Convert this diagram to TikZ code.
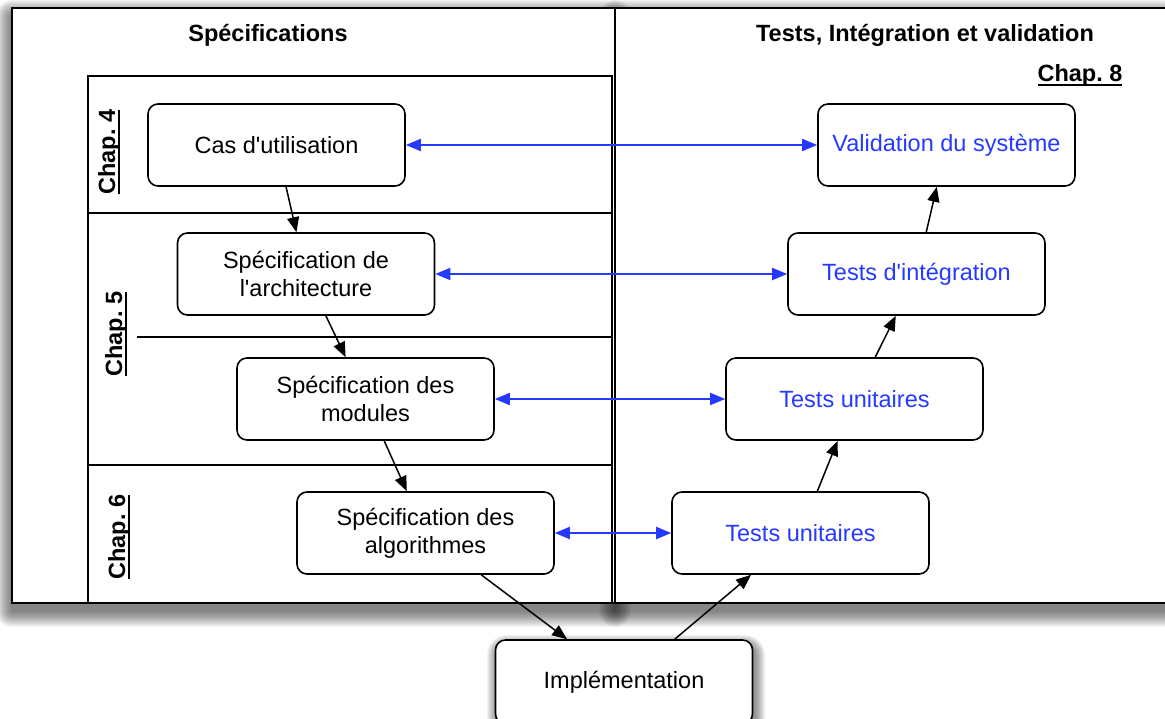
\documentclass[tikz,border=0pt]{standalone}
\usepackage{fontspec}
\setmainfont{Liberation Sans}
\usetikzlibrary{arrows.meta}
\definecolor{linkblue}{RGB}{38,58,255}
\newcommand{\apos}{\textquotesingle}
% underline that sits just under the baseline, crossing the descenders
\newcommand{\chapline}[1]{\setbox0\hbox{#1}\rlap{\rule[-4.5pt]{\wd0}{1.5pt}}\box0}
\frenchspacing

\begin{document}
\begin{tikzpicture}[x=1pt,y=-1pt,
  stage/.style={draw, line width=1.6pt, rounded corners=10pt, fill=white,
    minimum width=257pt, minimum height=82pt, align=center, inner sep=0pt,
    font=\fontsize{23.5}{28}\selectfont},
  test/.style={stage, text=linkblue},
  flow/.style={line width=1.5pt, -{Triangle[length=15pt,width=12pt]}},
  trace/.style={draw=linkblue, line width=1.9pt,
    {Triangle[length=15pt,width=12pt]}-{Triangle[length=15pt,width=12pt]}},
  frame/.style={line width=2.5pt},
  lane/.style={line width=1.5pt},
  heading/.style={font=\bfseries\fontsize{23.5}{28}\selectfont},
  chap/.style={font=\bfseries\fontsize{23.5}{28}\selectfont, rotate=90},
]
\useasboundingbox (0,0) rectangle (1165,719);
\clip (0,0) rectangle (1165,719);

% soft drop shadows of the two halves
\foreach \r in {1,...,16}{
  \fill[black, opacity=0.04, rounded corners=\r pt]
    ({12-\r},{16-\r}) rectangle ({615+\r},{611+\r});
  \fill[black, opacity=0.04, rounded corners=\r pt]
    ({615-\r},{16-\r}) rectangle ({1185+\r},{611+\r});
}
\fill[white] (12,8) rectangle (1185,603);

% the two halves
\draw[frame] (12,8) rectangle (615,603);
\draw[frame] (615,8) rectangle (1185,603);

% chapter lanes of the specification side
\draw[lane] (88,76) rectangle (612,603);
\draw[lane] (88,213) -- (612,213);
\draw[lane] (137,337) -- (612,337);
\draw[lane] (88,465) -- (612,465);

% headings
\node[heading] (hspec) at (268,35) {Spécifications};
\node[heading] (htest) at (925,35) {Tests, Intégration et validation};
\node[heading] (c8) at (1080,75) {\chapline{Chap. 8}};
\node[chap] (c4) at (109,152) {\chapline{Chap. 4}};
\node[chap] (c5) at (116,334) {\chapline{Chap. 5}};
\node[chap] (c6) at (119,537) {\chapline{Chap. 6}};

% shadow of the implementation step
\foreach \r in {1,...,10}{
  \fill[black, opacity=0.05, rounded corners={10+\r}]
    ({497-\r},{645-\r}) rectangle ({755+\r},{729+\r});
}

% specification steps
\node[stage] (cas)  at (276.5,145) {Cas d\apos utilisation};
\node[stage] (arch) at (306,274)   {Spécification de\\l\apos architecture};
\node[stage] (mod)  at (365.5,399) {Spécification des\\modules};
\node[stage] (algo) at (425.5,533) {Spécification des\\algorithmes};
\node[stage, minimum height=84pt] (impl) at (624,682) {Implémentation};

% test steps
\node[test] (val)   at (946.5,145) {Validation du système};
\node[test] (integ) at (916.5,274) {Tests d\apos intégration};
\node[test] (tu1)   at (854.5,399) {Tests unitaires};
\node[test] (tu2)   at (800.5,533) {Tests unitaires};

% descending and ascending branches
\draw[flow] (cas) -- (arch);
\draw[flow] (arch) -- (mod);
\draw[flow] (mod) -- (algo);
\draw[flow] (algo) -- (impl);
\draw[flow] (impl) -- (tu2);
\draw[flow] (tu2) -- (tu1);
\draw[flow] (tu1) -- (integ);
\draw[flow] (integ) -- (val);

% correspondences between the two sides
\draw[trace] (cas.east) -- (val.west);
\draw[trace] (arch.east) -- (integ.west);
\draw[trace] (mod.east) -- (tu1.west);
\draw[trace] (algo.east) -- (tu2.west);
\end{tikzpicture}
\end{document}
